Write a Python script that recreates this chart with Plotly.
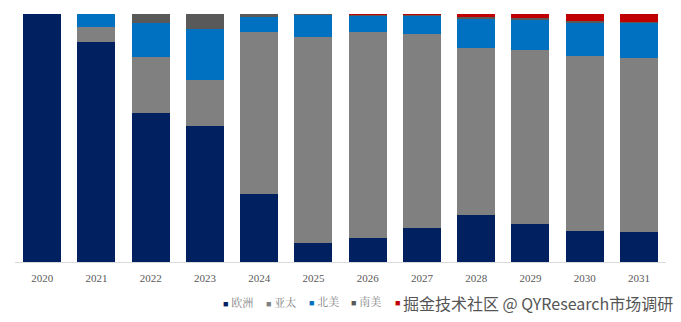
import plotly.graph_objects as go

years = ["2020", "2021", "2022", "2023", "2024", "2025", "2026", "2027", "2028", "2029", "2030", "2031"]
europe = [100.0, 88.6, 60.1, 54.8, 27.3, 7.8, 9.6, 13.8, 19.1, 15.4, 12.6, 12.1]
apac = [0.0, 5.8, 22.3, 18.5, 65.2, 83.1, 83.3, 78.1, 67.2, 70.0, 70.6, 70.2]
namerica = [0.0, 5.4, 13.7, 20.2, 6.0, 8.9, 6.4, 7.3, 12.1, 12.0, 13.8, 14.2]
samerica = [0.0, 0.0, 3.6, 6.2, 1.2, 0.2, 0.3, 0.4, 0.5, 1.0, 0.5, 0.4]
mea = [0.0, 0.0, 0.0, 0.0, 0.0, 0.0, 0.4, 0.4, 1.2, 1.5, 2.8, 3.2]

series = [
    ("欧洲", europe, "#002060"),
    ("亚太", apac, "#808080"),
    ("北美", namerica, "#0070C0"),
    ("南美", samerica, "#595959"),
    ("中东及非洲", mea, "#C00000"),
]
watermark = "掘金技术社区 @ QYResearch市场调研"

fig = go.Figure()
for name, vals, col in series:
    fig.add_trace(go.Bar(x=years, y=vals, name=name, marker=dict(color=col, line=dict(width=0))))

# compact legend row (Excel-style small squares), the last label is covered by the watermark
legend_x = [221, 264, 307, 349, 393]
annotations = []
for (name, vals, col), px in zip(series, legend_x):
    label = name if name != "中东及非洲" else ""
    annotations.append(dict(
        text=f"<span style='color:{col};font-size:9px'>■</span> {label}",
        xref="paper", yref="paper", x=(px - 15) / 651, y=-40 / 248,
        xanchor="left", yanchor="middle", showarrow=False,
        font=dict(family="Liberation Serif, Noto Serif CJK SC, Noto Sans CJK SC", size=11, color="#7f7f7f")))
annotations.append(dict(
    text=watermark, xref="paper", yref="paper", x=(401 - 15) / 651, y=-41 / 248,
    xanchor="left", yanchor="middle", showarrow=False,
    font=dict(family="Noto Sans CJK SC", size=16, color="#555555")))

fig.update_layout(
    barmode="stack",
    barnorm="percent",
    bargap=0.3,
    width=681, height=322,
    margin=dict(l=15, r=15, t=14, b=60),
    paper_bgcolor="white", plot_bgcolor="white",
    showlegend=False,
    xaxis=dict(showline=True, linecolor="#d9d9d9", linewidth=1, ticks="", ticklabelstandoff=6,
               tickfont=dict(family="Liberation Serif, Noto Sans CJK SC", size=11, color="#595959")),
    yaxis=dict(range=[0, 100], visible=False, showgrid=False),
    annotations=annotations,
)

fig.write_html("out.html")
